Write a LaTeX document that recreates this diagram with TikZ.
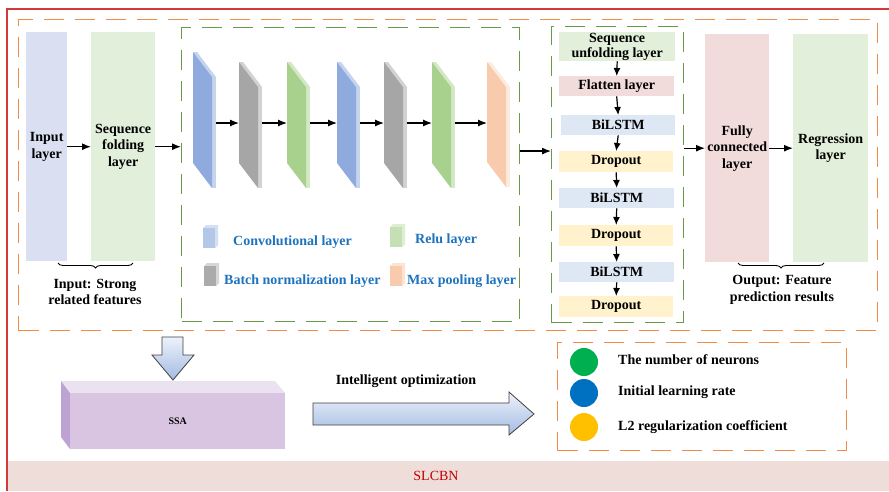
\documentclass[tikz,border=0pt]{standalone}
\usepackage{fontspec}
\setmainfont{Liberation Serif}
\usetikzlibrary{arrows.meta,decorations.pathreplacing,calc}
\definecolor{inblue}{HTML}{DAE0F2}
\definecolor{lgreen}{HTML}{E2EFDA}
\definecolor{lpink}{HTML}{F2DCDB}
\definecolor{lblue}{HTML}{DEE7F4}
\definecolor{lyellow}{HTML}{FFF2CC}
\definecolor{dorange}{HTML}{F08C46}
\definecolor{dgreen}{HTML}{6A9A48}
\definecolor{bordred}{HTML}{D23A3A}
\definecolor{bandpink}{HTML}{EFDDDA}
\definecolor{textred}{HTML}{C00000}
\definecolor{legblue}{HTML}{1E73BE}
\definecolor{sblue}{HTML}{8FAADC}
\definecolor{sbluel}{HTML}{C5D4EE}
\definecolor{sgray}{HTML}{A6A6A6}
\definecolor{sgrayl}{HTML}{D2D2D2}
\definecolor{sgreen}{HTML}{A9D18E}
\definecolor{sgreenl}{HTML}{D3E8C6}
\definecolor{sorange}{HTML}{F8CBAD}
\definecolor{sorangel}{HTML}{FDEBDD}
\definecolor{cblue}{HTML}{B4C7E7}
\definecolor{cbluel}{HTML}{D3DFF3}
\definecolor{cgray}{HTML}{ABABAB}
\definecolor{cgrayl}{HTML}{D6D6D6}
\definecolor{cgreen}{HTML}{C5E0B4}
\definecolor{cgreenl}{HTML}{DDEED3}
\definecolor{corange}{HTML}{F8CBAD}
\definecolor{corangel}{HTML}{FCE3D3}
\definecolor{ssafront}{HTML}{D9C5E2}
\definecolor{ssatop}{HTML}{EAE1F1}
\definecolor{ssaside}{HTML}{BDA3D1}
\definecolor{arrtop}{HTML}{EDF2FB}
\definecolor{arrbot}{HTML}{A3BBE2}
\definecolor{circgreen}{HTML}{00B050}
\definecolor{circblue}{HTML}{0070C0}
\definecolor{circyellow}{HTML}{FFC000}
\newcommand\myslab[6]{%
  \fill[#5] (#1,#2) -- (#1+19,#2+25) -- (#1+23,#2+25) -- (#1+4,#2) -- cycle;
  \fill[#5] (#1+19,#2+25) rectangle (#1+23,#2+25+#3);
  \fill[#4] (#1,#2) -- (#1+19,#2+25) -- (#1+19,#2+25+#3) -- (#1,#2+#3) -- cycle;
  \coordinate (#6in) at (#1,123);
  \coordinate (#6out) at (#1+23,123);
}
\newcommand\mycube[4]{%
  \fill[#4] (#1,#2+3) -- (#1+3,#2) -- (#1+15,#2) -- (#1+15,#2+20) -- (#1+12,#2+23) -- (#1+12,#2+3) -- cycle;
  \fill[#3] (#1,#2+3) rectangle (#1+12,#2+23);
}
\begin{document}
\begin{tikzpicture}[x=1pt,y=-1pt,
  lbl/.style={font=\fontsize{14}{16.5}\selectfont\bfseries, align=center, inner sep=0pt},
  legtxt/.style={font=\fontsize{14}{16}\selectfont\bfseries, text=legblue, anchor=west, inner sep=0pt},
  layerbox/.style={anchor=north west, inner sep=0pt, font=\fontsize{14}{16.5}\selectfont\bfseries, align=center},
  smallbox/.style={anchor=north west, inner sep=0pt, font=\fontsize{14}{15}\selectfont\bfseries, align=center},
  arr/.style={line width=1.2pt, -{Latex[length=9pt,width=7pt]}},
  sarr/.style={line width=1.2pt, -{Latex[length=8pt,width=7pt]}},
  odash/.style={draw=dorange, line width=1.4pt, dash pattern=on 20pt off 11pt},
  gdash/.style={draw=dgreen, line width=1.4pt, dash pattern=on 20pt off 11pt},
  bracestyle/.style={decorate, decoration={brace, mirror, amplitude=5pt}, line width=0.9pt},
  blockarr/.style={top color=arrtop, bottom color=arrbot, draw=black!75, line width=0.8pt}
]
\useasboundingbox (0,0) rectangle (889,491);
\fill[white] (0,0) rectangle (889,491);
% bottom band and red border
\fill[bandpink] (7,461) rectangle (889,491);
\draw[bordred, line width=1.5pt] (7,491) -- (7,9) -- (889,9);
\node[font=\fontsize{14}{16}\selectfont, text=textred] (slcbn) at (436,476) {SLCBN};
% outer orange dashed
\node[odash, anchor=north west, minimum width=859pt, minimum height=311pt, inner sep=0pt] (outer) at (18,19) {};
% input and folding layers
\node[layerbox, fill=inblue, minimum width=41pt, minimum height=229pt] (inl) at (26,32) {};
\node[lbl] at (inl.center) {Input\\layer};
\node[layerbox, fill=lgreen, minimum width=64pt, minimum height=229pt] (fold) at (91,32) {};
\node[lbl] at (fold.center) {Sequence\\folding\\layer};
\draw[arr] (inl.east) -- (fold.west);
\draw[bracestyle] (58,263) -- (133,263);
\node[lbl] (intxt) at (95,292) {Input: Strong\\related features};
% CNN dashed box
\node[gdash, anchor=north west, minimum width=338pt, minimum height=294pt, inner sep=0pt] (gb1) at (181,27) {};
\draw[arr] (fold.east) -- (fold.east -| gb1.west);
\myslab{193}{52}{111}{sblue}{sbluel}{s1}
\myslab{239}{62}{101}{sgray}{sgrayl}{s2}
\myslab{287}{62}{101}{sgreen}{sgreenl}{s3}
\myslab{337}{62}{101}{sblue}{sbluel}{s4}
\myslab{384}{62}{101}{sgray}{sgrayl}{s5}
\myslab{432}{62}{101}{sgreen}{sgreenl}{s6}
\myslab{487}{62}{100}{sorange}{sorangel}{s7}
\draw[arr] (s1out) -- (s2in);
\draw[arr] (s2out) -- (s3in);
\draw[arr] (s3out) -- (s4in);
\draw[arr] (s4out) -- (s5in);
\draw[arr] (s5out) -- (s6in);
\draw[arr] (s6out) -- (s7in);
% legend
\mycube{203}{225}{cblue}{cbluel}
\mycube{390}{224}{cgreen}{cgreenl}
\mycube{204}{263}{cgray}{cgrayl}
\mycube{390}{263}{corange}{corangel}
\node[legtxt] (lg1) at (233,242) {Convolutional layer};
\node[legtxt] (lg2) at (415,240) {Relu layer};
\node[legtxt] (lg3) at (224,281) {Batch normalization layer};
\node[legtxt] (lg4) at (407,281) {Max pooling layer};
% BiLSTM dashed box
\node[gdash, anchor=north west, minimum width=132pt, minimum height=296pt, inner sep=0pt] (gb2) at (551,26) {};
\coordinate (gout) at ($(gb1.north east)!0.42!(gb1.south east)$);
\draw[arr] (gout) -- (gout -| gb2.west);
\node[smallbox, fill=lgreen, minimum width=116pt, minimum height=29pt] (unf) at (559,32) {Sequence\\unfolding layer};
\node[smallbox, fill=lpink, minimum width=115pt, minimum height=20pt] (flat) at (559,76) {Flatten layer};
\node[smallbox, fill=lblue, minimum width=114pt, minimum height=20pt] (bi1) at (561,115) {BiLSTM};
\node[smallbox, fill=lyellow, minimum width=114pt, minimum height=21pt] (dr1) at (559,151) {Dropout};
\node[smallbox, fill=lblue, minimum width=115pt, minimum height=20pt] (bi2) at (559,188) {BiLSTM};
\node[smallbox, fill=lyellow, minimum width=114pt, minimum height=21pt] (dr2) at (559,225) {Dropout};
\node[smallbox, fill=lblue, minimum width=115pt, minimum height=20pt] (bi3) at (559,262) {BiLSTM};
\node[smallbox, fill=lyellow, minimum width=114pt, minimum height=21pt] (dr3) at (559,296) {Dropout};
\draw[sarr] (unf.south) -- (flat.north);
\draw[sarr] (flat.south) -- (bi1.north);
\draw[sarr] (bi1.south) -- (dr1.north);
\draw[sarr] (dr1.south) -- (bi2.north);
\draw[sarr] (bi2.south) -- (dr2.north);
\draw[sarr] (dr2.south) -- (bi3.north);
\draw[sarr] (bi3.south) -- (dr3.north);
% output layers
\node[layerbox, fill=lpink, minimum width=64pt, minimum height=228pt] (fc) at (705,34) {};
\node[lbl] at (fc.center) {Fully\\connected\\layer};
\node[layerbox, fill=lgreen, minimum width=75pt, minimum height=228pt] (reg) at (793,34) {};
\node[lbl] at (reg.center) {Regression\\layer};
\draw[arr] (gb2.east |- fc.west) -- (fc.west);
\draw[arr] (fc.east) -- (reg.west);
\draw[bracestyle] (738,263) -- (824,263);
\node[lbl] (outtxt) at (782,290) {Output: Feature\\prediction results};
% bottom part
\shade[blockarr] (162,337) -- (183,337) -- (183,355) -- (194,355) -- (173,380) -- (152,355) -- (162,355) -- cycle;
\fill[ssatop] (61,381) -- (275,381) -- (285,393) -- (70,393) -- cycle;
\fill[ssaside] (61,381) -- (70,393) -- (70,449) -- (61,437) -- cycle;
\node[anchor=north west, fill=ssafront, minimum width=215pt, minimum height=56pt, inner sep=0pt] (ssa) at (70,393) {};
\node[font=\fontsize{10}{12}\selectfont\bfseries] at (ssa.center) {SSA};
\node[lbl] (opt) at (406,381) {Intelligent optimization};
\shade[blockarr] (313,403) -- (509,403) -- (509,392) -- (534,414) -- (509,435) -- (509,425) -- (313,425) -- cycle;
\node[odash, anchor=north west, minimum width=289pt, minimum height=108pt, inner sep=0pt] (pbox) at (557,342) {};
\fill[circgreen] (584,362) circle (14);
\fill[circblue] (584,393) circle (14);
\fill[circyellow] (584,427) circle (14);
\node[lbl, anchor=west] (p1) at (618,360) {The number of neurons};
\node[lbl, anchor=west] (p2) at (618,392) {Initial learning rate};
\node[lbl, anchor=west] (p3) at (618,427) {L2 regularization coefficient};
\end{tikzpicture}
\end{document}
